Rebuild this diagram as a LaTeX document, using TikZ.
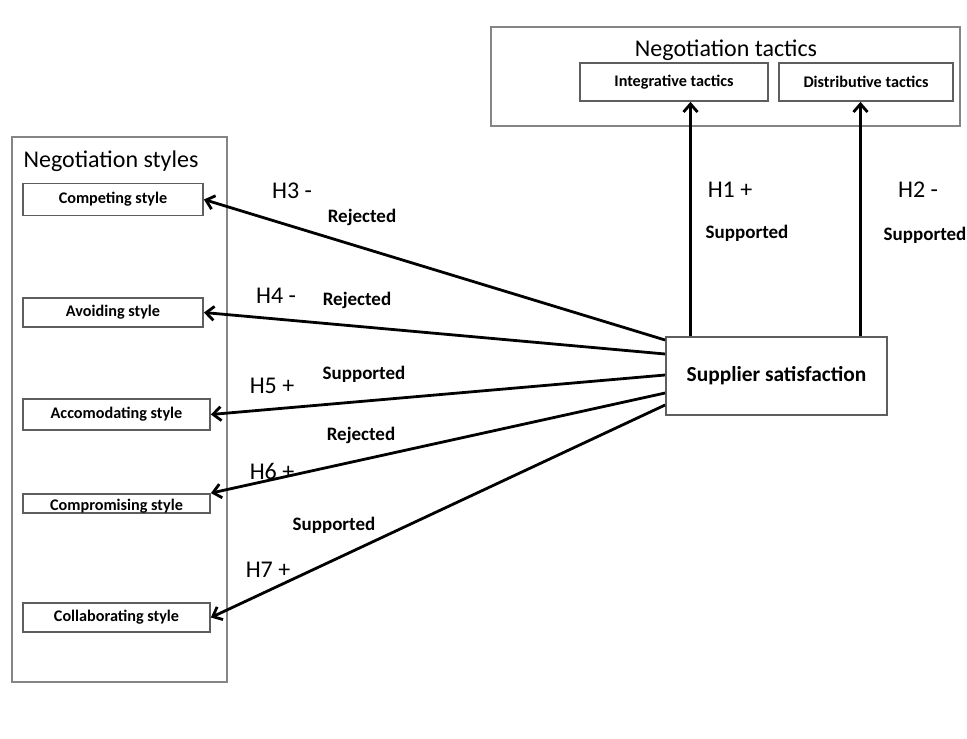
\documentclass[tikz,border=0pt]{standalone}
\usepackage{fontspec}
\setmainfont{Carlito}
\usepackage{xcolor}
\usepackage{tikz}
\usetikzlibrary{arrows.meta,calc}
\definecolor{frame}{HTML}{858585}
\definecolor{edge}{HTML}{5E5E5E}
\tikzset{
  grp/.style     ={draw=frame, line width=1pt, inner sep=0pt},
  ttl/.style     ={font=\fontsize{12}{14}\selectfont, inner sep=0pt},
  sbox/.style    ={draw=edge, line width=0.9pt, fill=white, inner sep=0pt, align=center,
                   font=\fontsize{8.1}{10}\selectfont\bfseries},
  hyp/.style     ={font=\fontsize{12}{14}\selectfont, inner sep=0pt},
  verdict/.style ={font=\fontsize{9.5}{11}\selectfont\bfseries, inner sep=0pt},
  hyparr/.style  ={-{Straight Barb[length=4pt,width=7pt]}, line width=1.4pt},
}
\begin{document}
\begin{tikzpicture}[x=0.5pt,y=-0.5pt]
\useasboundingbox[fill=white] (0,0) rectangle (967,738);
% tactics group
\node[grp, minimum width=234.5pt, minimum height=49.5pt] (tact) at (725.5,76.5) {};
\node[ttl] (tactttl) at (726,50) {Negotiation tactics};
\node[sbox, minimum width=94pt, minimum height=19pt] (integ) at (674,82) {Integrative tactics};
\node[sbox, minimum width=87pt, minimum height=19pt] (distr) at (866,82) {Distributive tactics};
% styles group
\node[grp, minimum width=107.5pt, minimum height=272.5pt] (styl) at (119.5,409.5) {};
\node[ttl] (stylttl) at (111,161) {Negotiation styles};
\node[sbox, minimum width=90pt, minimum height=16pt] (compet) at (113,199.5) {Competing style};
\node[sbox, minimum width=90pt, minimum height=14.5pt] (avoid) at (113,312.5) {Avoiding style};
\node[sbox, minimum width=93.5pt, minimum height=15.5pt] (accom) at (116.5,414.5) {Accomodating style};
\node[sbox, minimum width=93.5pt, minimum height=9.5pt, text height=6.5pt, text depth=0pt] (compro) at (116.5,503.5) {Compromising style};
\node[sbox, minimum width=93.5pt, minimum height=14.5pt] (collab) at (116.5,617.5) {Collaborating style};
% supplier satisfaction
\node[sbox, font=\fontsize{10.7}{13}\selectfont\bfseries, minimum width=110.5pt, minimum height=39pt] (supp) at (776.5,376) {Supplier satisfaction};
% H1, H2
\coordinate (h1s) at ([xshift=-43pt]supp.north);
\coordinate (h2s) at ([xshift=42pt]supp.north);
\draw[hyparr] (h1s) -- (h1s |- integ.south);
\draw[hyparr] (h2s) -- (h2s |- distr.south);
% H3 - H7
\draw[hyparr] ([yshift=18pt]supp.west) -- (compet.east);
\draw[hyparr] ([yshift=11pt]supp.west) -- (avoid.east);
\draw[hyparr] ([yshift=0.5pt]supp.west) -- (accom.east);
\draw[hyparr] ([yshift=-8.5pt]supp.west) -- (compro.north east);
\draw[hyparr] ([yshift=-14.5pt]supp.west) -- (collab.east);
% labels
\node[hyp] (l1) at (730,190) {H1 +};
\node[verdict] (v1) at (747,233) {Supported};
\node[hyp] (l2) at (918,190) {H2 -};
\node[verdict] (v2) at (925,235) {Supported};
\node[hyp] (l3) at (292,191) {H3 -};
\node[verdict] (v3) at (362,217) {Rejected};
\node[hyp] (l4) at (276,296) {H4 -};
\node[verdict] (v4) at (357,300) {Rejected};
\node[verdict] (v5) at (364,374) {Supported};
\node[hyp] (l5) at (272,386) {H5 +};
\node[verdict] (v6) at (361,435) {Rejected};
\node[hyp] (l6) at (272,471) {H6 +};
\node[verdict] (v7) at (334,525) {Supported};
\node[hyp] (l7) at (268,570) {H7 +};
\end{tikzpicture}
\end{document}
